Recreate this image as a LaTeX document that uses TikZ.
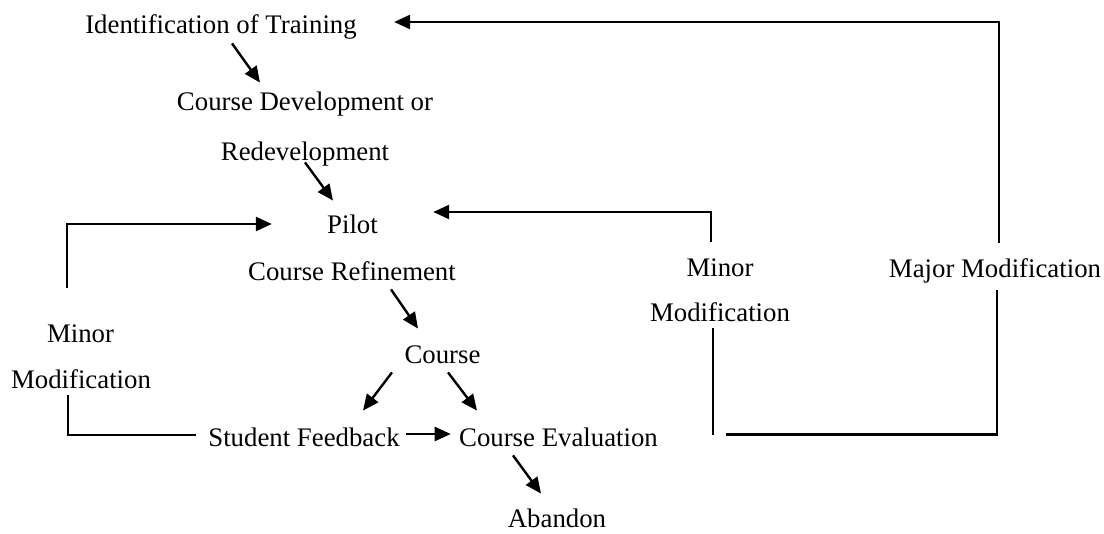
\documentclass[tikz,border=0pt]{standalone}
\usepackage{fontspec}
\setmainfont{Liberation Serif}
\usepackage{tikz}
\usetikzlibrary{arrows.meta,calc}

\begin{document}
\begin{tikzpicture}[x=0.5pt, y=-0.5pt,
  lbl/.style={inner sep=0pt, text height=9pt, text depth=3pt, font=\fontsize{13.4}{16}\selectfont},
  arr/.style={line width=1.2pt, -{Triangle[length=8pt,width=7pt]}},
  ln/.style={line width=1.2pt}]
  \useasboundingbox (0,0) rectangle (1104,534);

  \node[lbl] (need)   at (221,28)   {Identification of Training};
  \node[lbl] (devl)   at (305,105)  {Course Development or};
  \node[lbl] (redev)  at (305,155)  {Redevelopment};
  \node[lbl] (pilot)  at (352.5,228) {Pilot};
  \node[lbl] (refine) at (352,275)  {Course Refinement};
  \node[lbl] (deliv)  at (442.5,358) {Course};
  \node[lbl] (feedb)  at (304,440)  {Student Feedback};
  \node[lbl] (evalu)  at (558.5,440) {Course Evaluation};
  \node[lbl] (aband)  at (557,521)  {Abandon};
  \node[lbl] (lminor) at (80.5,337) {Minor};
  \node[lbl] (lmodif) at (81,383)   {Modification};
  \node[lbl] (mminor) at (720,271)  {Minor};
  \node[lbl] (mmodif) at (720,316)  {Modification};
  \node[lbl] (major)  at (995,272)  {Major Modification};

  \draw[arr] ($(need.south)+(11,3)$) -- ($(devl.north)+(-45,-10)$);
  \draw[arr] ($(redev.south)+(0,-5)$) -- ($(pilot.north)+(-19.5,-15)$);
  \draw[arr] ($(refine.south)+(39,2)$) -- ($(deliv.north)+(-24.5,-17)$);
  \draw[arr] ($(deliv.south)+(-50.5,2)$) -- ($(feedb.north)+(59,-17)$);
  \draw[arr] ($(deliv.south)+(5.5,2)$) -- ($(evalu.north)+(-81.5,-17)$);
  \draw[arr] ($(feedb.east)+(6,-6)$) -- ($(evalu.west)+(-8,-6)$);
  \draw[arr] ($(evalu.south)+(-45.5,3)$) -- ($(aband.north)+(-16,-15)$);

  \draw[arr] ($(lminor.north)+(-13.5,-37)$) |- ($(pilot.west)+(-55,-4)$);
  \draw[ln] ($(lmodif.south)+(-13,0)$) |- ($(feedb.west)+(-12,-5)$);
  \draw[arr] ($(mminor.north)+(-9,-17)$) |- ($(pilot.east)+(55,-16)$);
  \draw[ln] ($(mmodif.south)+(-7,0)$) -- ++(0,107);
  \coordinate (gap) at ($(mmodif.south)+(6,106)$);
  \draw[ln] ($(major.south)+(2,6)$) |- (gap);
  \draw[arr] ($(major.north)+(4,-17)$) |- ($(need.east)+(37,-6)$);
\end{tikzpicture}
\end{document}
